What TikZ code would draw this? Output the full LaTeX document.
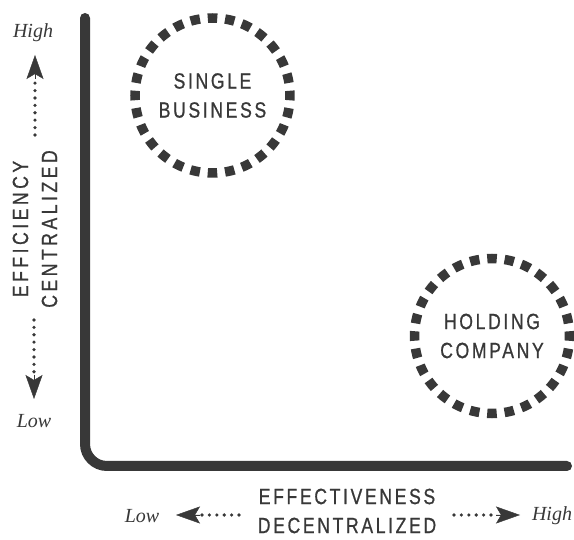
\documentclass[tikz,border=0pt]{standalone}
\usepackage{fontspec}
\setmainfont{Liberation Serif}
\newfontfamily\capsfont[FakeStretch=0.8,LetterSpace=12,FakeBold=0.8]{Liberation Sans}
\newfontfamily\capsfontside[FakeStretch=0.8,LetterSpace=16,FakeBold=0.8]{Liberation Sans}
\usetikzlibrary{arrows.meta}

\definecolor{ink}{HTML}{383838}

\tikzset{
  axisline/.style={draw=ink, line width=10pt, line cap=round, rounded corners=22pt},
  ring/.style={circle, draw=ink, line width=9.5pt, minimum size=155pt, inner sep=0pt,
    dash pattern=on 9.5pt off 7.89pt, dash phase=4.75pt, text=ink, align=center,
    font=\capsfont\fontsize{22}{29}\selectfont},
  axislabel/.style={text=ink, align=center, inner sep=0pt,
    font=\capsfont\fontsize{22}{29}\selectfont},
  sidelabel/.style={axislabel, font=\capsfontside\fontsize{22}{29}\selectfont},
  endlabel/.style={text=ink, inner sep=0pt, font=\itshape\fontsize{20}{22}\selectfont},
  dots/.style={draw=ink, line width=3.6pt, line cap=round, dash pattern=on 0pt off 7.4pt},
  head/.style={draw=ink, fill=ink, line width=0.4pt,
    -{Stealth[length=24pt, width=17pt, inset=5pt]}},
}

\begin{document}
\begin{tikzpicture}[x=1pt, y=-1pt]
  \useasboundingbox (0,0) rectangle (574,540);

  % the two axes as one bent bar
  \coordinate (ytop) at (85,18);
  \coordinate (origin) at (85,466);
  \coordinate (xend) at (567,466);
  \draw[axisline] (ytop) -- (origin) -- (xend);

  % organisation types
  \node[ring] (single) at (212.5,95.5) {SINGLE\\BUSINESS};
  \node[ring] (holding) at (492,336) {HOLDING\\COMPANY};

  % vertical axis
  \node[sidelabel, rotate=90] (ylabel) at (35,229) {EFFICIENCY\\CENTRALIZED};
  \node[endlabel] (yhigh) at (33,33) {High};
  \node[endlabel] (ylow) at (34,421) {Low};
  \coordinate (yup0) at (35,135);  \coordinate (yupb) at (35,79);  \coordinate (yup1) at (35,55);
  \coordinate (ydn0) at (34,320);  \coordinate (ydnb) at (34,375); \coordinate (ydn1) at (34,399);
  \draw[dots] (yup0) -- (yupb);
  \draw[head] (yupb) -- (yup1);
  \draw[dots] (ydn0) -- (ydnb);
  \draw[head] (ydnb) -- (ydn1);

  % horizontal axis
  \node[axislabel] (xlabel) at (347,511) {EFFECTIVENESS\\DECENTRALIZED};
  \node[endlabel] (xlow) at (142,516) {Low};
  \node[endlabel] (xhigh) at (552,516) {High};
  \coordinate (xl0) at (239,515); \coordinate (xlb) at (200,515); \coordinate (xl1) at (176,515);
  \coordinate (xr0) at (454,515); \coordinate (xrb) at (496,515); \coordinate (xr1) at (520,515);
  \draw[dots] (xl0) -- (xlb);
  \draw[head] (xlb) -- (xl1);
  \draw[dots] (xr0) -- (xrb);
  \draw[head] (xrb) -- (xr1);
\end{tikzpicture}
\end{document}
